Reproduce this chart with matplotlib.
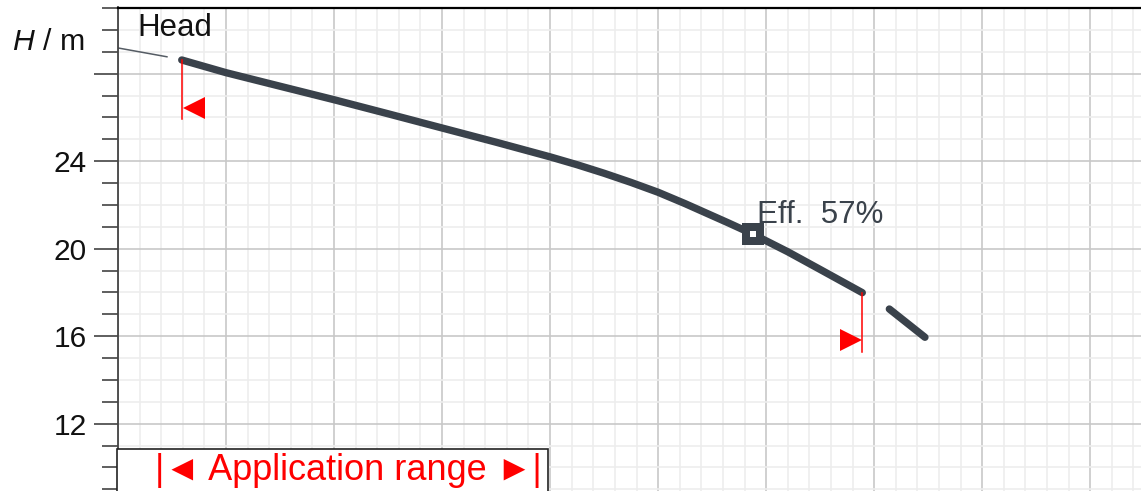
import matplotlib
matplotlib.use("Agg")
import matplotlib.pyplot as plt
from matplotlib.patches import Rectangle
from matplotlib.ticker import MultipleLocator, FixedLocator
from matplotlib.transforms import offset_copy

plt.rcParams['font.family'] = ['Liberation Sans', 'DejaVu Sans']
plt.rcParams['mathtext.fontset'] = 'custom'
plt.rcParams['mathtext.rm'] = 'Liberation Sans'
plt.rcParams['mathtext.it'] = 'Liberation Sans:italic'

# pump curve (flow in arbitrary units, head in m)
q_lead = [0.0, 4.6]          # thin leader line from the "Head" label
h_lead = [29.18, 28.77]
q_main = [5.9, 10.0, 15.0, 20.1, 25.0, 30.0, 35.0, 40.0, 42.5, 45.0, 47.5, 50.0,
          52.5, 54.5, 56.5, 58.8, 62.0, 65.0, 68.9]
h_main = [28.63, 28.05, 27.43, 26.80, 26.17, 25.52, 24.87, 24.20, 23.84, 23.45, 23.03, 22.58,
          22.06, 21.62, 21.18, 20.66, 19.86, 19.05, 17.99]
q_ext = [68.9, 71.0, 74.7]
h_ext = [17.99, 17.40, 15.95]

q_bep = 58.8
h_bep = 20.66
eff_bep = 57

q_min = 5.9
q_max = 68.9
drop = 2.7  # length of the red range markers below the curve, m

y_major = [12, 16, 20, 24, 28]
y_labels = ['12', '16', '20', '24', '']

W, H = 1141, 491
fig = plt.figure(figsize=(W / 100, H / 100), dpi=100)
ax = fig.add_axes([118 / W, 0, 1 - 118 / W, 483.5 / H])
ax.set_xlim(0, 94.7)
ax.set_ylim(8.92, 31.03)

ax.xaxis.set_major_locator(MultipleLocator(10))
ax.xaxis.set_minor_locator(MultipleLocator(2))
ax.yaxis.set_major_locator(FixedLocator(y_major))
ax.yaxis.set_minor_locator(MultipleLocator(1))
ax.set_yticklabels(y_labels)
ax.tick_params(axis='x', which='both', length=0, labelbottom=False)
ax.tick_params(axis='y', which='major', length=17, width=1.1, color='#333333',
               labelsize=21.5, pad=5.5, labelcolor='#111111')
ax.tick_params(axis='y', which='minor', length=11.5, width=1.1, color='#333333')

ax.grid(which='minor', color='#ededed', lw=1.2, zorder=0)
ax.grid(which='major', color='#c8c8c8', lw=1.2, zorder=0)
ax.set_axisbelow(True)

for s in ['right', 'bottom']:
    ax.spines[s].set_visible(False)
ax.spines['left'].set_color('#444444')
ax.spines['left'].set_linewidth(1.3)
ax.spines['top'].set_color('#000000')
ax.spines['top'].set_linewidth(1.6)

curve_col = '#3a424b'
ax.plot(q_lead, h_lead, color='#555c64', lw=1.1, solid_capstyle='butt')
ax.plot(q_main, h_main, color=curve_col, lw=5.3, solid_capstyle='round', solid_joinstyle='round')
ax.plot(q_ext, h_ext, color=curve_col, lw=5.3, dash_capstyle='round',
        linestyle=(50, (50, 4.3)))

# application range markers
h_at_min = h_main[0]
h_at_max = h_main[-1]
ax.plot([q_min, q_min], [h_at_min, h_at_min - drop], color='red', lw=1.1, zorder=3)
ax.plot([q_max, q_max], [h_at_max, h_at_max - drop], color='red', lw=1.1, zorder=3)
ms = 16.5
tr_l = offset_copy(ax.transData, fig=fig, x=ms / 2 + 0.6, y=ms / 2, units='points')
tr_r = offset_copy(ax.transData, fig=fig, x=-ms / 2, y=ms / 2, units='points')
ax.plot([q_min], [h_at_min - drop], marker='<', ms=ms, color='red', mew=0,
        transform=tr_l, zorder=3)
ax.plot([q_max], [h_at_max - drop], marker='>', ms=ms, color='red', mew=0,
        transform=tr_r, zorder=3)

# best efficiency point
ax.plot([q_bep], [h_bep], marker='s', ms=16, color=curve_col, mew=0, zorder=4)
ax.plot([q_bep], [h_bep], marker='s', ms=4.8, color='white', mew=0, zorder=5)
ax.annotate(f'Eff.  {eff_bep}%', (q_bep, h_bep), xytext=(3, 8.1), textcoords='offset points',
            ha='left', va='baseline', fontsize=22.5, color='#3a424b', zorder=6)

ax.text(19 / 1023, (491 - 36) / 483.5, 'Head', transform=ax.transAxes,
        ha='left', va='baseline', fontsize=22.5, color='#111111')
fig.text(12 / W, 1 - 50 / H, '$H$ / m', ha='left', va='baseline', fontsize=21.8,
         color='#111111')

# application range box
fig.patches.append(Rectangle((117 / W, -0.05), (548 - 117) / W, 0.05 + 1 - 449 / H,
                             transform=fig.transFigure, facecolor='white',
                             edgecolor='#222222', lw=1.2, zorder=2))
fig.text(348.5 / W, 1 - 480 / H, '|◄ Application range ►|', ha='center', va='baseline',
         color='red', fontsize=26, zorder=3)

fig.savefig('out.png', dpi=100)
